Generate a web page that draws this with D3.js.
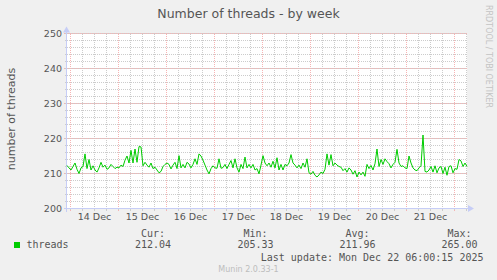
<!DOCTYPE html>
<html>
<head>
<meta charset="utf-8">
<script src="https://cdn.jsdelivr.net/npm/d3@7"></script>
<style>
  html, body { margin: 0; padding: 0; background: #f0f0f0; }
  svg { display: block; }
  text { font-family: "DejaVu Sans", sans-serif; fill: #555; }
  .mono { font-family: "DejaVu Sans Mono", monospace; }
</style>
</head>
<body>
<div id="chart"></div>
<script>
// munin "threads" graph, week view, one sample per hour
var chartTitle = "Number of threads - by week";
var yLabel = "number of threads";
var seriesName = "threads";
var seriesStart = new Date(2025, 11, 13, 22, 15);
var threads = [
  212.3, 211.6, 211.0, 212.0, 213.0, 211.2, 210.0, 211.6, 212.0, 215.6,
  211.4, 214.0, 211.0, 212.2, 211.0, 210.4, 211.6, 213.2, 211.8, 212.4,
  211.2, 211.6, 212.6, 212.0, 211.4, 211.8, 211.6, 212.4, 212.0, 213.8,
  215.0, 213.0, 216.6, 213.0, 217.0, 213.2, 217.7, 217.6, 212.2, 213.2,
  212.4, 211.8, 213.0, 211.4, 211.8, 211.0, 210.2, 210.6, 212.0, 212.6,
  213.0, 212.6, 211.3, 212.4, 213.2, 211.4, 215.1, 211.6, 212.6, 211.6,
  213.2, 212.7, 211.6, 212.6, 214.2, 212.6, 215.6, 215.0, 213.8, 212.4,
  211.0, 209.9, 211.4, 212.2, 211.6, 211.5, 214.2, 211.5, 211.7, 212.6,
  211.4, 212.6, 213.7, 211.6, 214.2, 211.6, 210.4, 212.6, 211.4, 214.7,
  211.6, 212.6, 211.6, 212.6, 211.0, 211.4, 209.9, 212.4, 215.1, 213.0,
  212.2, 213.0, 211.8, 213.5, 211.6, 214.5, 211.0, 212.6, 211.0, 212.6,
  212.2, 213.0, 215.4, 213.0, 212.4, 211.6, 212.4, 211.4, 213.0, 211.8,
  214.2, 210.2, 209.8, 210.6, 209.5, 209.0, 209.6, 210.4, 210.0, 211.2,
  215.6, 212.4, 215.4, 212.2, 213.0, 212.4, 212.0, 211.8, 210.8, 211.4,
  210.4, 211.6, 211.0, 209.8, 210.8, 209.0, 210.4, 209.6, 210.4, 209.2,
  212.6, 211.4, 212.3, 211.0, 212.8, 217.0, 212.0, 214.0, 212.6, 214.2,
  213.4, 212.8, 211.6, 212.6, 213.2, 216.9, 213.0, 212.0, 212.2, 211.6,
  211.4, 215.0, 213.0, 211.6, 211.0, 210.8, 211.6, 212.2, 221.0, 210.6,
  210.4, 211.0, 212.0, 210.4, 212.2, 210.2, 211.6, 212.0, 210.0, 211.8,
  209.5, 212.0, 212.2, 210.2, 211.4, 211.2, 214.0, 213.6, 212.0, 213.0,
  212.0
];
var legendHeads = ["Cur:", "Min:", "Avg:", "Max:"];
var legendValues = [212.04, 205.33, 211.96, 265.00];
var lastUpdate = "Last update: Mon Dec 22 06:00:15 2025";
var footer = "Munin 2.0.33-1";
var watermark = "RRDTOOL / TOBI OETIKER";
var timeDomain = [new Date(2025, 11, 13, 22, 15), new Date(2025, 11, 22, 6, 15)];
var yDomain = [200, 250];

var W = 497, H = 280;
var plotLeft = 67, plotRight = 467, plotTop = 33.5, plotBottom = 208.5;
var lineColor = "#00cc00";
var axisColor = "#c6cdf6";
var minorColor = "#cccccc";
var majorColor = "#f6b4b4";

var data = threads.map(function (v, i) {
    return {t: d3.timeHour.offset(seriesStart, i), v: v};
});

var svg = d3.select("#chart").append("svg")
    .attr("width", W)
    .attr("height", H);

svg.append("rect").attr("width", W).attr("height", H).attr("fill", "#f0f0f0");
svg.append("rect")
    .attr("x", plotLeft).attr("y", 33)
    .attr("width", plotRight - plotLeft).attr("height", 176)
    .attr("fill", "#fff");

var x = d3.scaleTime().domain(timeDomain).range([plotLeft, plotRight]);
var y = d3.scaleLinear().domain(yDomain).range([plotBottom, plotTop]);

var grid = svg.append("g").attr("shape-rendering", "crispEdges");

// minor grid first, major on top
var sixHours = d3.timeHour.every(6).range(timeDomain[0], timeDomain[1]);
var days = d3.timeDay.range(timeDomain[0], timeDomain[1]);
var minorY = d3.range(yDomain[0], yDomain[1] + 1, 2);
var majorY = d3.range(yDomain[0], yDomain[1] + 1, 10);

grid.selectAll(".vmin").data(sixHours).enter().append("line")
    .attr("x1", d => Math.floor(x(d)) + 0.5).attr("x2", d => Math.floor(x(d)) + 0.5)
    .attr("y1", plotTop).attr("y2", plotBottom)
    .attr("stroke", minorColor).attr("stroke-dasharray", "1,1");
grid.selectAll(".vtick").data(sixHours).enter().append("line")
    .attr("x1", d => Math.floor(x(d)) + 0.5).attr("x2", d => Math.floor(x(d)) + 0.5)
    .attr("y1", plotBottom).attr("y2", plotBottom + 2)
    .attr("stroke", minorColor);
grid.selectAll(".hmin").data(minorY).enter().append("line")
    .attr("x1", plotLeft).attr("x2", plotRight)
    .attr("y1", d => y(d)).attr("y2", d => y(d))
    .attr("stroke", minorColor).attr("stroke-dasharray", "1,1");
grid.selectAll(".htick").data(minorY).enter().append("line")
    .attr("x1", plotLeft - 2).attr("x2", plotLeft)
    .attr("y1", d => y(d)).attr("y2", d => y(d))
    .attr("stroke", minorColor);

grid.selectAll(".vmaj").data(days).enter().append("line")
    .attr("x1", d => Math.floor(x(d)) + 0.5).attr("x2", d => Math.floor(x(d)) + 0.5)
    .attr("y1", plotTop).attr("y2", plotBottom + 3)
    .attr("stroke", majorColor).attr("stroke-dasharray", "1,1");
grid.selectAll(".hmaj").data(majorY).enter().append("line")
    .attr("x1", plotLeft - 3).attr("x2", plotRight)
    .attr("y1", d => y(d)).attr("y2", d => y(d))
    .attr("stroke", majorColor).attr("stroke-dasharray", "1,1");

// axes with arrows
grid.append("line")
    .attr("x1", plotLeft - 3).attr("x2", plotRight + 2)
    .attr("y1", plotBottom).attr("y2", plotBottom)
    .attr("stroke", axisColor);
grid.append("line")
    .attr("x1", plotLeft - 0.5).attr("x2", plotLeft - 0.5)
    .attr("y1", plotBottom + 3).attr("y2", plotTop - 3)
    .attr("stroke", axisColor);
svg.append("path")
    .attr("d", "M" + (plotRight + 1) + "," + (plotBottom - 3.5) + "L" + (plotRight + 7) + "," + plotBottom + "L" + (plotRight + 1) + "," + (plotBottom + 3.5) + "Z")
    .attr("fill", axisColor);
svg.append("path")
    .attr("d", "M" + (plotLeft - 4) + "," + (plotTop - 1) + "L" + (plotLeft - 0.5) + "," + (plotTop - 7) + "L" + (plotLeft + 3) + "," + (plotTop - 1) + "Z")
    .attr("fill", axisColor);

// tick labels
svg.selectAll(".ylab").data(majorY).enter().append("text")
    .attr("x", plotLeft - 5).attr("y", d => y(d) + 3.5)
    .attr("text-anchor", "end")
    .style("font-size", "9.5px")
    .text(d => d);

var noons = days.map(d => d3.timeHour.offset(d, 12)).filter(d => d < timeDomain[1]);
svg.selectAll(".xlab").data(noons).enter().append("text")
    .attr("x", d => x(d)).attr("y", 220)
    .attr("text-anchor", "middle")
    .style("font-size", "9.5px")
    .text(d3.timeFormat("%-d %b"));

// the series
var line = d3.line().x(d => x(d.t)).y(d => y(d.v));
svg.append("path")
    .datum(data)
    .attr("d", line)
    .attr("fill", "none")
    .attr("stroke", lineColor)
    .attr("stroke-width", 1);

// titles
svg.append("text")
    .attr("x", W / 2).attr("y", 18)
    .attr("text-anchor", "middle")
    .style("font-size", "12.5px")
    .text(chartTitle);
svg.append("text")
    .attr("transform", "translate(15,119) rotate(-90)")
    .attr("text-anchor", "middle")
    .style("font-size", "11px")
    .text(yLabel);
svg.append("text")
    .attr("transform", "translate(485.5,5) rotate(90)")
    .style("font-size", "8px")
    .style("fill", "#c4c4c4")
    .text(watermark);

// legend
var colEnd = [171, 273.5, 375.5, 477.5];
svg.append("rect")
    .attr("x", 14).attr("y", 242).attr("width", 6).attr("height", 6)
    .attr("fill", lineColor);
svg.append("text").attr("class", "mono")
    .attr("x", 26.5).attr("y", 248)
    .style("font-size", "10px")
    .text(seriesName);
svg.selectAll(".lh").data(legendHeads).enter().append("text")
    .attr("class", "mono")
    .attr("x", (d, i) => colEnd[i] - 6).attr("y", 237)
    .attr("text-anchor", "end")
    .style("font-size", "10px")
    .text(d => d);
svg.selectAll(".lv").data(legendValues).enter().append("text")
    .attr("class", "mono")
    .attr("x", (d, i) => colEnd[i]).attr("y", 248)
    .attr("text-anchor", "end")
    .style("font-size", "10px")
    .text(d => d.toFixed(2));
svg.append("text").attr("class", "mono")
    .attr("x", 483.5).attr("y", 261)
    .attr("text-anchor", "end")
    .style("font-size", "10px")
    .text(lastUpdate);
svg.append("text")
    .attr("x", 248.5).attr("y", 272)
    .attr("text-anchor", "middle")
    .style("font-size", "8px")
    .style("fill", "#bdbdbd")
    .text(footer);
</script>
</body>
</html>
